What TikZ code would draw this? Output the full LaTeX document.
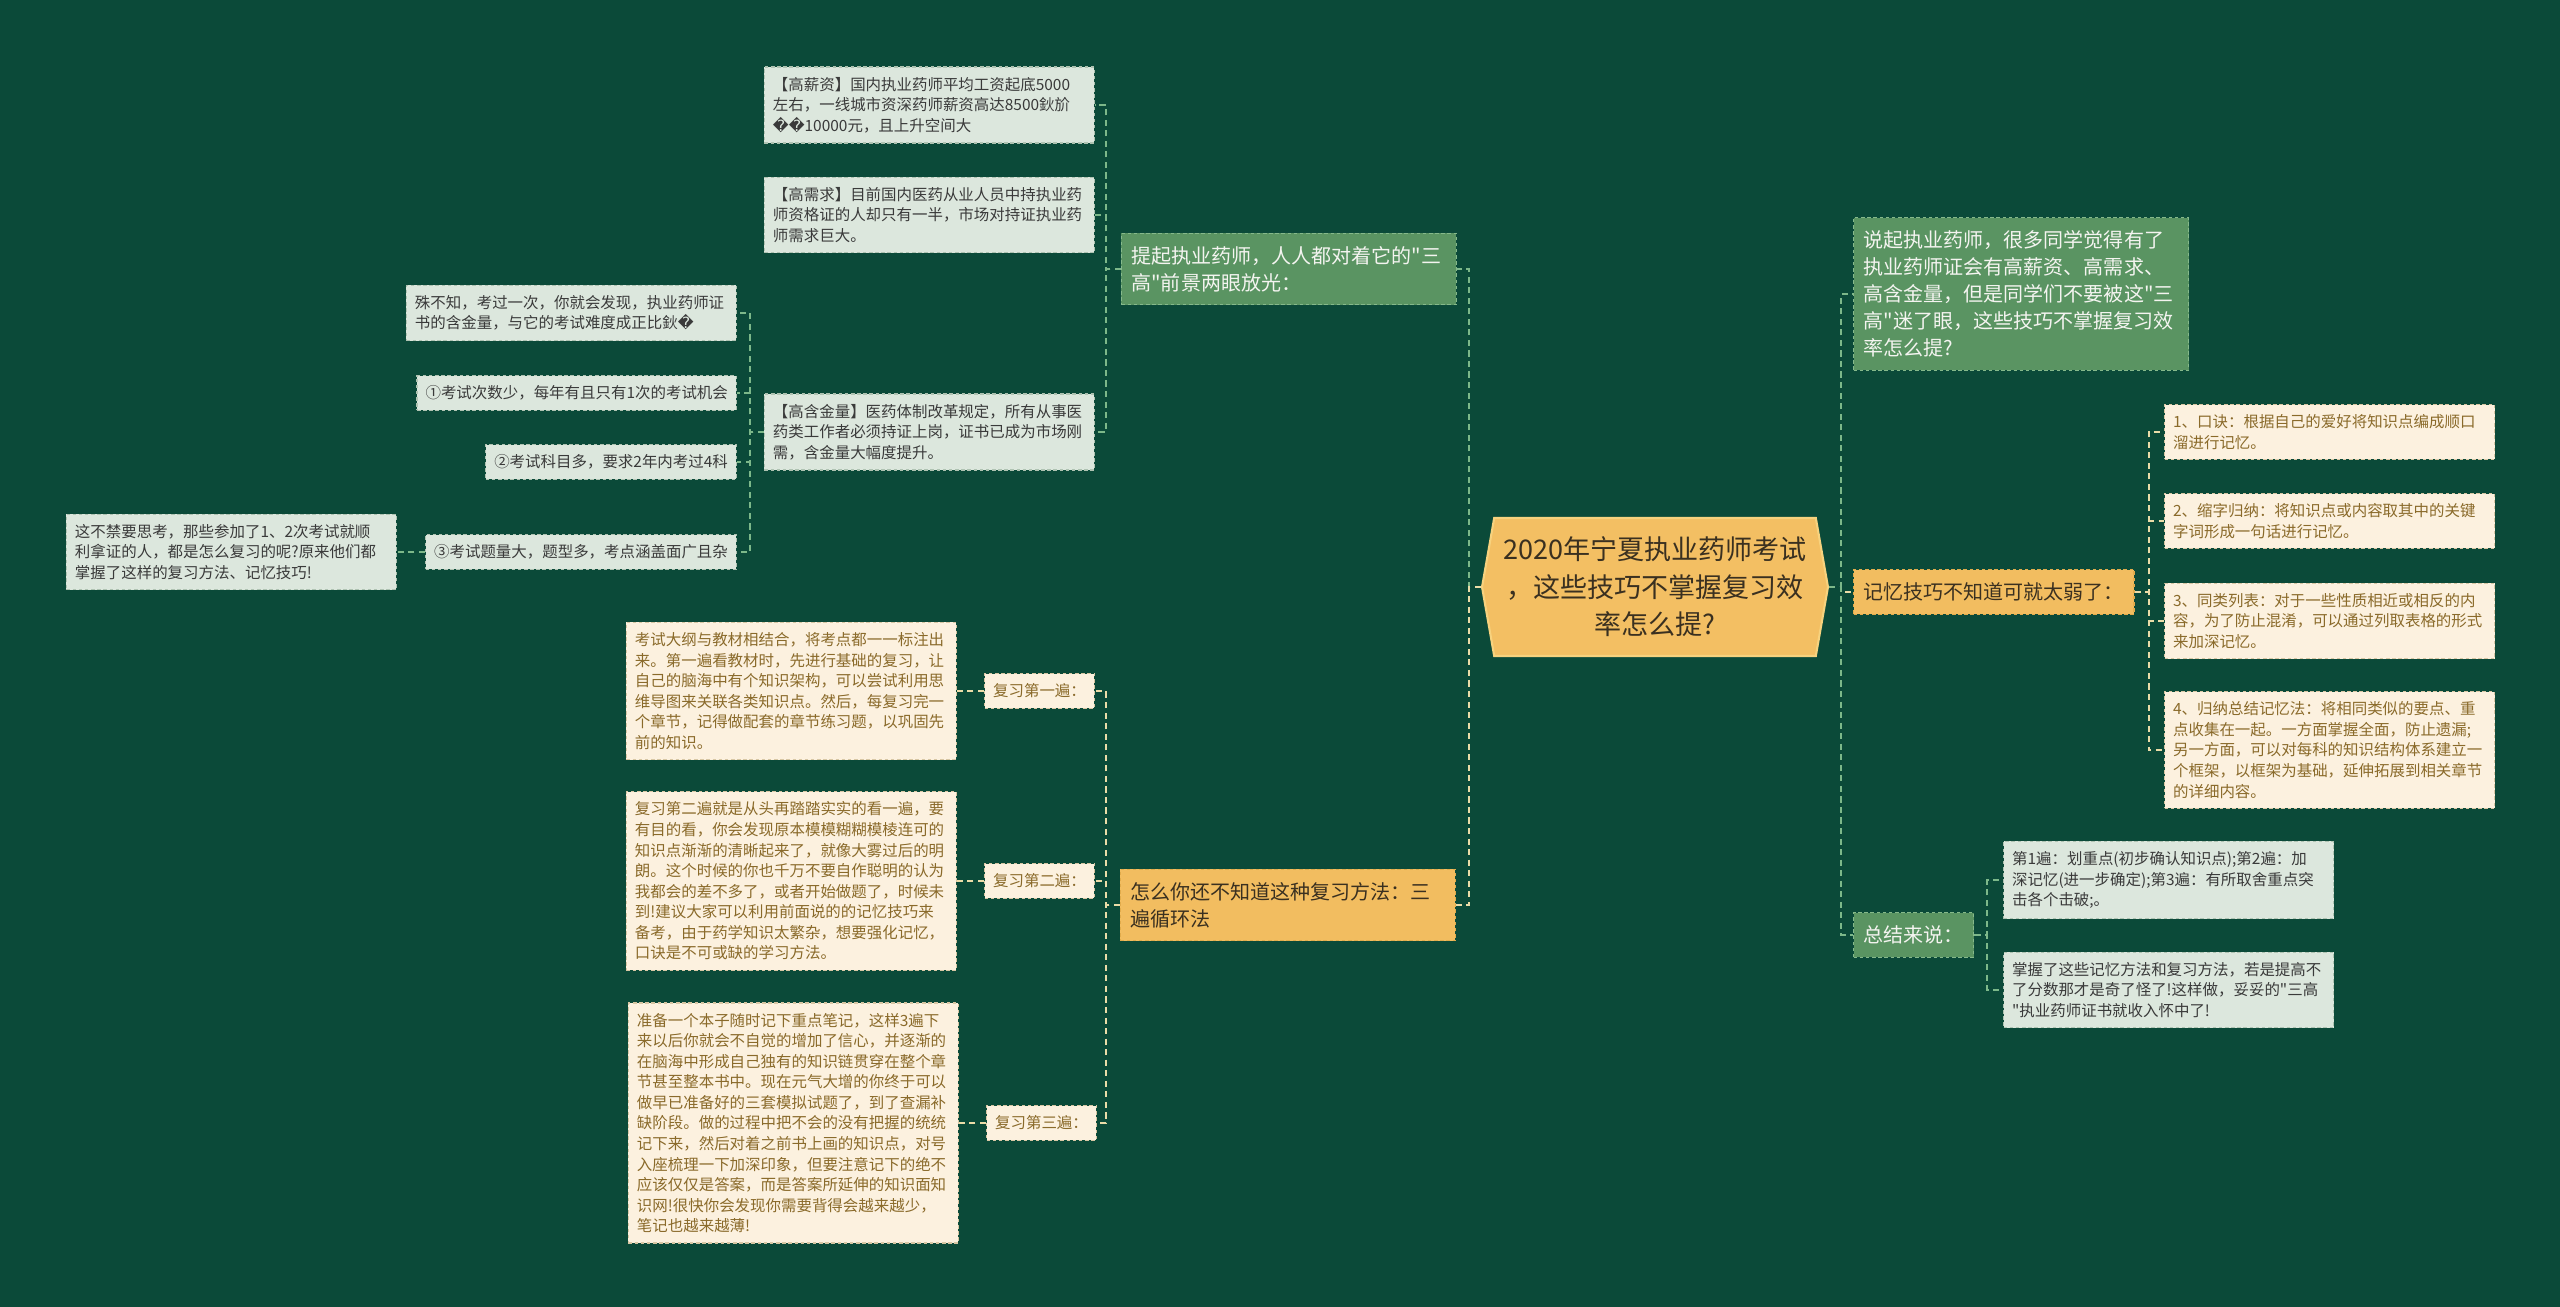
\documentclass[tikz,border=0pt]{standalone}
\usepackage{fontspec}
\newfontfamily\cjkfont{Noto Sans CJK SC}
\newfontfamily\symfont{DejaVu Sans}
\usetikzlibrary{positioning, shapes.symbols, calc}
\definecolor{bgcolor}{HTML}{0B4A39}
\definecolor{greyfill}{HTML}{DCE7DD}
\definecolor{greyedge}{HTML}{AFC3B2}
\definecolor{greytext}{HTML}{3A3A3A}
\definecolor{creamfill}{HTML}{FCF1DF}
\definecolor{creamedge}{HTML}{D8C7A4}
\definecolor{creamtext}{HTML}{8A6A2A}
\definecolor{greenfill}{HTML}{5A9462}
\definecolor{greenedge}{HTML}{86B98B}
\definecolor{greentext}{HTML}{F4F4F0}
\definecolor{orangefill}{HTML}{F2BD60}
\definecolor{orangeedge}{HTML}{E2AC4C}
\definecolor{orangetext}{HTML}{3A3020}
\definecolor{rootfill}{HTML}{F3BF63}
\definecolor{rootedge}{HTML}{F7D27E}
\definecolor{glinecolor}{HTML}{7DB88A}
\definecolor{ylinecolor}{HTML}{EBDCA8}
\newcommand{\qmark}{{\symfont\char"FFFD}}

\begin{document}
\begin{tikzpicture}[
    x=0.02cm, y=-0.02cm,
    box/.style={draw, dash pattern=on 2pt off 1.5pt, line width=0.7pt, align=left, inner xsep=0.17cm, inner ysep=0.2cm, font=\cjkfont\fontsize{8.8}{11.7}\selectfont},
    greybox/.style={box, fill=greyfill, draw=greyedge, text=greytext},
    creambox/.style={box, fill=creamfill, draw=creamedge, text=creamtext},
    wide/.style={text width=6.26cm},
    topic/.style={draw, dash pattern=on 2pt off 1.5pt, line width=0.7pt, align=left, inner xsep=0.2cm, inner ysep=0.26cm, font=\cjkfont\fontsize{11.4}{15.4}\selectfont},
    greentopic/.style={topic, fill=greenfill, draw=greenedge, text=greentext},
    orangetopic/.style={topic, fill=orangefill, draw=orangeedge, text=orangetext},
    widetopic/.style={text width=6.3cm},
    root/.style={signal, signal to=east and west, signal pointer angle=160, fill=rootfill, draw=rootedge, line width=1.2pt, minimum width=6.92cm, minimum height=2.76cm, inner sep=0pt, align=center, text=orangetext, font=\cjkfont\fontsize{15.4}{21.3}\selectfont},
    gline/.style={draw=glinecolor, line width=1.1pt, dash pattern=on 3.5pt off 2.5pt},
    yline/.style={draw=ylinecolor, line width=1.1pt, dash pattern=on 3.5pt off 2.5pt}
]
    % background
    \fill[bgcolor] (0,0) rectangle (2560,1307);
    \useasboundingbox (0,0) rectangle (2560,1307);

    % root
    \node[root] (central) at (1655,587) {2020年宁夏执业药师考试\\，这些技巧不掌握复习效\\率怎么提?};

    % left: three highs
    \node[greentopic, widetopic, anchor=east] (tiqi) at (1457,269) {提起执业药师，人人都对着它的"三\\高"前景两眼放光：};
    \node[greybox, wide, anchor=east] (gxz) at (1095,105) {【高薪资】国内执业药师平均工资起底5000\\左右，一线城市资深药师薪资高达8500鈥斺\\\qmark\qmark10000元，且上升空间大};
    \node[greybox, wide, anchor=east] (gxq) at (1095,215) {【高需求】目前国内医药从业人员中持执业药\\师资格证的人却只有一半，市场对持证执业药\\师需求巨大。};
    \node[greybox, wide, anchor=east] (ghj) at (1095,432) {【高含金量】医药体制改革规定，所有从事医\\药类工作者必须持证上岗，证书已成为市场刚\\需，含金量大幅度提升。};
    \node[greybox, wide, anchor=east] (szz) at (737,313) {殊不知，考过一次，你就会发现，执业药师证\\书的含金量，与它的考试难度成正比鈥\qmark};
    \node[greybox, anchor=east] (q1) at (737,393) {①考试次数少，每年有且只有1次的考试机会};
    \node[greybox, anchor=east] (q2) at (737,462) {②考试科目多，要求2年内考过4科};
    \node[greybox, anchor=east] (q3) at (737,552) {③考试题量大，题型多，考点涵盖面广且杂};
    \node[greybox, wide, left=0.56cm of q3] (zbj) {这不禁要思考，那些参加了1、2次考试就顺\\利拿证的人，都是怎么复习的呢?原来他们都\\掌握了这样的复习方法、记忆技巧!};

    % left: three rounds
    \node[orangetopic, widetopic, anchor=east] (zenme) at (1456,905) {怎么你还不知道这种复习方法：三\\遍循环法};
    \node[creambox, anchor=east] (f1) at (1095,691) {复习第一遍：};
    \node[creambox, anchor=east] (f2) at (1095,881) {复习第二遍：};
    \node[creambox, anchor=east] (f3) at (1097,1123) {复习第三遍：};
    \node[creambox, wide, left=0.54cm of f1] (t1) {考试大纲与教材相结合，将考点都一一标注出\\来。第一遍看教材时，先进行基础的复习，让\\自己的脑海中有个知识架构，可以尝试利用思\\维导图来关联各类知识点。然后，每复习完一\\个章节，记得做配套的章节练习题，以巩固先\\前的知识。};
    \node[creambox, wide, left=0.54cm of f2] (t2) {复习第二遍就是从头再踏踏实实的看一遍，要\\有目的看，你会发现原本模模糊糊模棱连可的\\知识点渐渐的清晰起来了，就像大雾过后的明\\朗。这个时候的你也千万不要自作聪明的认为\\我都会的差不多了，或者开始做题了，时候未\\到!建议大家可以利用前面说的的记忆技巧来\\备考，由于药学知识太繁杂，想要强化记忆，\\口诀是不可或缺的学习方法。};
    \node[creambox, wide, left=0.54cm of f3] (t3) {准备一个本子随时记下重点笔记，这样3遍下\\来以后你就会不自觉的增加了信心，并逐渐的\\在脑海中形成自己独有的知识链贯穿在整个章\\节甚至整本书中。现在元气大增的你终于可以\\做早已准备好的三套模拟试题了，到了查漏补\\缺阶段。做的过程中把不会的没有把握的统统\\记下来，然后对着之前书上画的知识点，对号\\入座梳理一下加深印象，但要注意记下的绝不\\应该仅仅是答案，而是答案所延伸的知识面知\\识网!很快你会发现你需要背得会越来越少，\\笔记也越来越薄!};

    % right
    \node[greentopic, widetopic, anchor=west] (shuoqi) at (1853,294) {说起执业药师，很多同学觉得有了\\执业药师证会有高薪资、高需求、\\高含金量，但是同学们不要被这"三\\高"迷了眼，这些技巧不掌握复习效\\率怎么提?};
    \node[orangetopic, anchor=west] (jiyi) at (1853,592) {记忆技巧不知道可就太弱了：};
    \node[creambox, wide, anchor=west] (m1) at (2164,432) {1、口诀：根据自己的爱好将知识点编成顺口\\溜进行记忆。};
    \node[creambox, wide, anchor=west] (m2) at (2164,521) {2、缩字归纳：将知识点或内容取其中的关键\\字词形成一句话进行记忆。};
    \node[creambox, wide, anchor=west] (m3) at (2164,621) {3、同类列表：对于一些性质相近或相反的内\\容，为了防止混淆，可以通过列取表格的形式\\来加深记忆。};
    \node[creambox, wide, anchor=west] (m4) at (2164,750) {4、归纳总结记忆法：将相同类似的要点、重\\点收集在一起。一方面掌握全面，防止遗漏;\\另一方面，可以对每科的知识结构体系建立一\\个框架，以框架为基础，延伸拓展到相关章节\\的详细内容。};
    \node[greentopic, anchor=west] (zongjie) at (1853,935) {总结来说：};
    \node[greybox, wide, anchor=west] (s1) at (2003,880) {第1遍：划重点(初步确认知识点);第2遍：加\\深记忆(进一步确定);第3遍：有所取舍重点突\\击各个击破;。};
    \node[greybox, wide, anchor=west] (s2) at (2003,990) {掌握了这些记忆方法和复习方法，若是提高不\\了分数那才是奇了怪了!这样做，妥妥的"三高\\"执业药师证书就收入怀中了!};

    % connectors
    \draw[gline] (central.west) -- ++(-12,0) |- (tiqi.east);
    \draw[yline] (central.west) -- ++(-12,0) |- (zenme.east);
    \foreach \c in {gxz,gxq,ghj}
        \draw[gline] (tiqi.west) -- ++(-15,0) |- (\c.east);
    \foreach \c in {szz,q1,q2,q3}
        \draw[gline] (ghj.west) -- ++(-14,0) |- (\c.east);
    \draw[gline] (q3.west) -- (zbj.east);
    \foreach \c in {f1,f2,f3}
        \draw[yline] (zenme.west) -- ++(-14,0) |- (\c.east);
    \foreach \n in {1,2,3}
        \draw[yline] (f\n.west) -- (t\n.east);
    \draw[gline] (central.east) -- ++(12,0) |- (shuoqi.west);
    \draw[yline] (central.east) -- ++(12,0) |- (jiyi.west);
    \draw[gline] (central.east) -- ++(12,0) |- (zongjie.west);
    \foreach \c in {m1,m2,m3,m4}
        \draw[yline] (jiyi.east) -- ++(14,0) |- (\c.west);
    \foreach \c in {s1,s2}
        \draw[gline] (zongjie.east) -- ++(13,0) |- (\c.west);
\end{tikzpicture}
\end{document}
